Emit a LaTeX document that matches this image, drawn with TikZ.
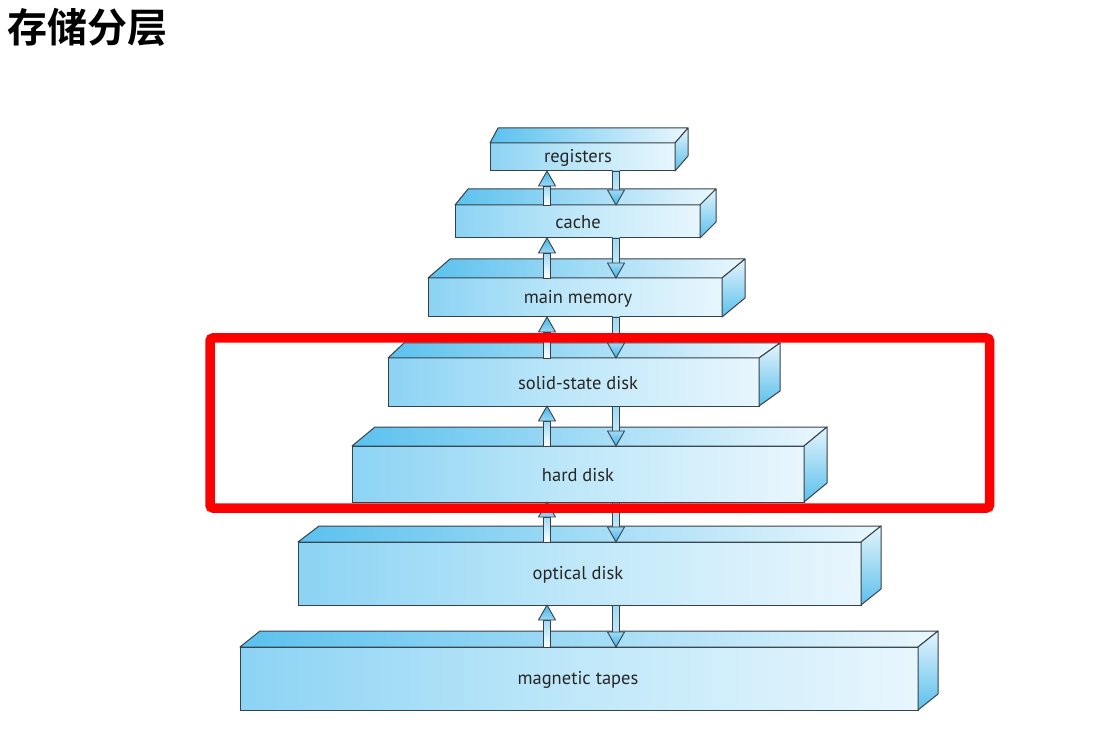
\documentclass[tikz,border=0pt]{standalone}
\usepackage{fontspec}
\setmainfont{PT Sans}
\newfontfamily\cjk{Noto Sans CJK SC}[BoldFont={Noto Sans CJK SC Bold}]
\usetikzlibrary{calc}
\definecolor{edge}{HTML}{36424A}
\definecolor{frontL}{HTML}{8CD3F4}
\definecolor{frontM}{HTML}{C0E8F9}
\definecolor{frontR}{HTML}{E8F6FD}
\definecolor{topL}{HTML}{5BC1EE}
\definecolor{topR}{HTML}{EAF7FD}
\definecolor{sideT}{HTML}{E4F4FC}
\definecolor{sideB}{HTML}{5BC0EC}
\definecolor{headD}{HTML}{3FB5EA}
\definecolor{headL}{HTML}{9ED9F5}
\definecolor{txt}{HTML}{262626}
\tikzset{
  front/.style={draw=edge, line width=1pt, inner sep=0pt, outer sep=0pt,
    left color=frontL, right color=frontR, middle color=frontM,
    text=txt, font=\fontsize{18.5}{18.5}\selectfont},
  topface/.style={draw=edge, line width=1pt, line join=round, left color=topL, right color=topR},
  sideface/.style={draw=edge, line width=1pt, line join=round, top color=sideT, bottom color=sideB},
  shaftup/.style={draw=edge, line width=0.9pt, top color=headL, bottom color=white},
  shaftdown/.style={draw=edge, line width=0.9pt, top color=headL, bottom color=frontM},
  headup/.style={draw=edge, line width=0.9pt, line join=round, top color=headD, bottom color=headL},
  headdown/.style={draw=edge, line width=0.9pt, line join=round, top color=headL, bottom color=headD},
  redframe/.style={draw=red, line width=9.5pt, rounded corners=3pt}
}
% #1 name, #2 cx, #3 cy, #4 w, #5 h, #6 dl, #7 dr, #8 dy, #9 text
\newcommand\layerbox[9]{%
  \node[front, minimum width=#4pt, minimum height=#5pt] (#1) at (#2,#3) {};
  \node[text=txt, font=\fontsize{18.5}{18.5}\selectfont, inner sep=0pt] (#1-t) at (578,#3+1) {#9};
  \path[topface] (#1.north west) -- ++(#6,-#8) -- ($(#1.north east)+(#7,-#8)$) -- (#1.north east) -- cycle;
  \path[sideface] (#1.north east) -- ++(#7,-#8) -- ($(#1.south east)+(#7,-#8)$) -- (#1.south east) -- cycle;
}
% #1 lower node, #2 upper node
\newcommand\arrowpair[2]{%
  \path (547,0 |- #1.north) coordinate (ub) (547,0 |- #2.south) coordinate (ut);
  \path[shaftup] ($(ub)+(-3.5,0)$) -- ($(ut)+(-3.5,15)$) -- ($(ut)+(3.5,15)$) -- ($(ub)+(3.5,0)$) -- cycle;
  \path[headup] (ut) -- ($(ut)+(-8.5,15)$) -- ($(ut)+(8.5,15)$) -- cycle;
  \path (616,0 |- #2.south) coordinate (dt) (616,0 |- #1.north) coordinate (db);
  \path[shaftdown] ($(dt)+(-3.5,0)$) -- ($(db)+(-3.5,-15)$) -- ($(db)+(3.5,-15)$) -- ($(dt)+(3.5,0)$) -- cycle;
  \path[headdown] (db) -- ($(db)+(-8.5,-15)$) -- ($(db)+(8.5,-15)$) -- cycle;
}
\begin{document}
\begin{tikzpicture}[x=1pt, y=-1pt]
\useasboundingbox[fill=white] (0,0) rectangle (1109,735);
\node[anchor=west, inner sep=0pt, font=\cjk\bfseries\fontsize{40}{40}\selectfont] (title) at (7,27) {存储分层};
\layerbox{reg}{582.5}{157}{185}{28}{8}{13}{15}{registers}
\layerbox{cache}{577.5}{221.5}{245}{33}{13}{16}{16}{cache}
\layerbox{mem}{575}{297.5}{294}{39}{22}{23}{19}{main memory}
\layerbox{ssd}{573.5}{382}{371}{48}{16}{21}{15}{solid-state disk}
\layerbox{hd}{578}{474}{452}{56}{23}{23}{19}{hard disk}
\layerbox{opt}{579.5}{573.5}{563}{63}{21}{20}{16}{optical disk}
\layerbox{tape}{579}{678.5}{678}{63}{20}{20}{16}{magnetic tapes}
\arrowpair{cache}{reg}
\arrowpair{mem}{cache}
\arrowpair{ssd}{mem}
\arrowpair{hd}{ssd}
\arrowpair{opt}{hd}
\arrowpair{tape}{opt}
\path[redframe] (210,338) rectangle (989.5,508);
\end{tikzpicture}
\end{document}
